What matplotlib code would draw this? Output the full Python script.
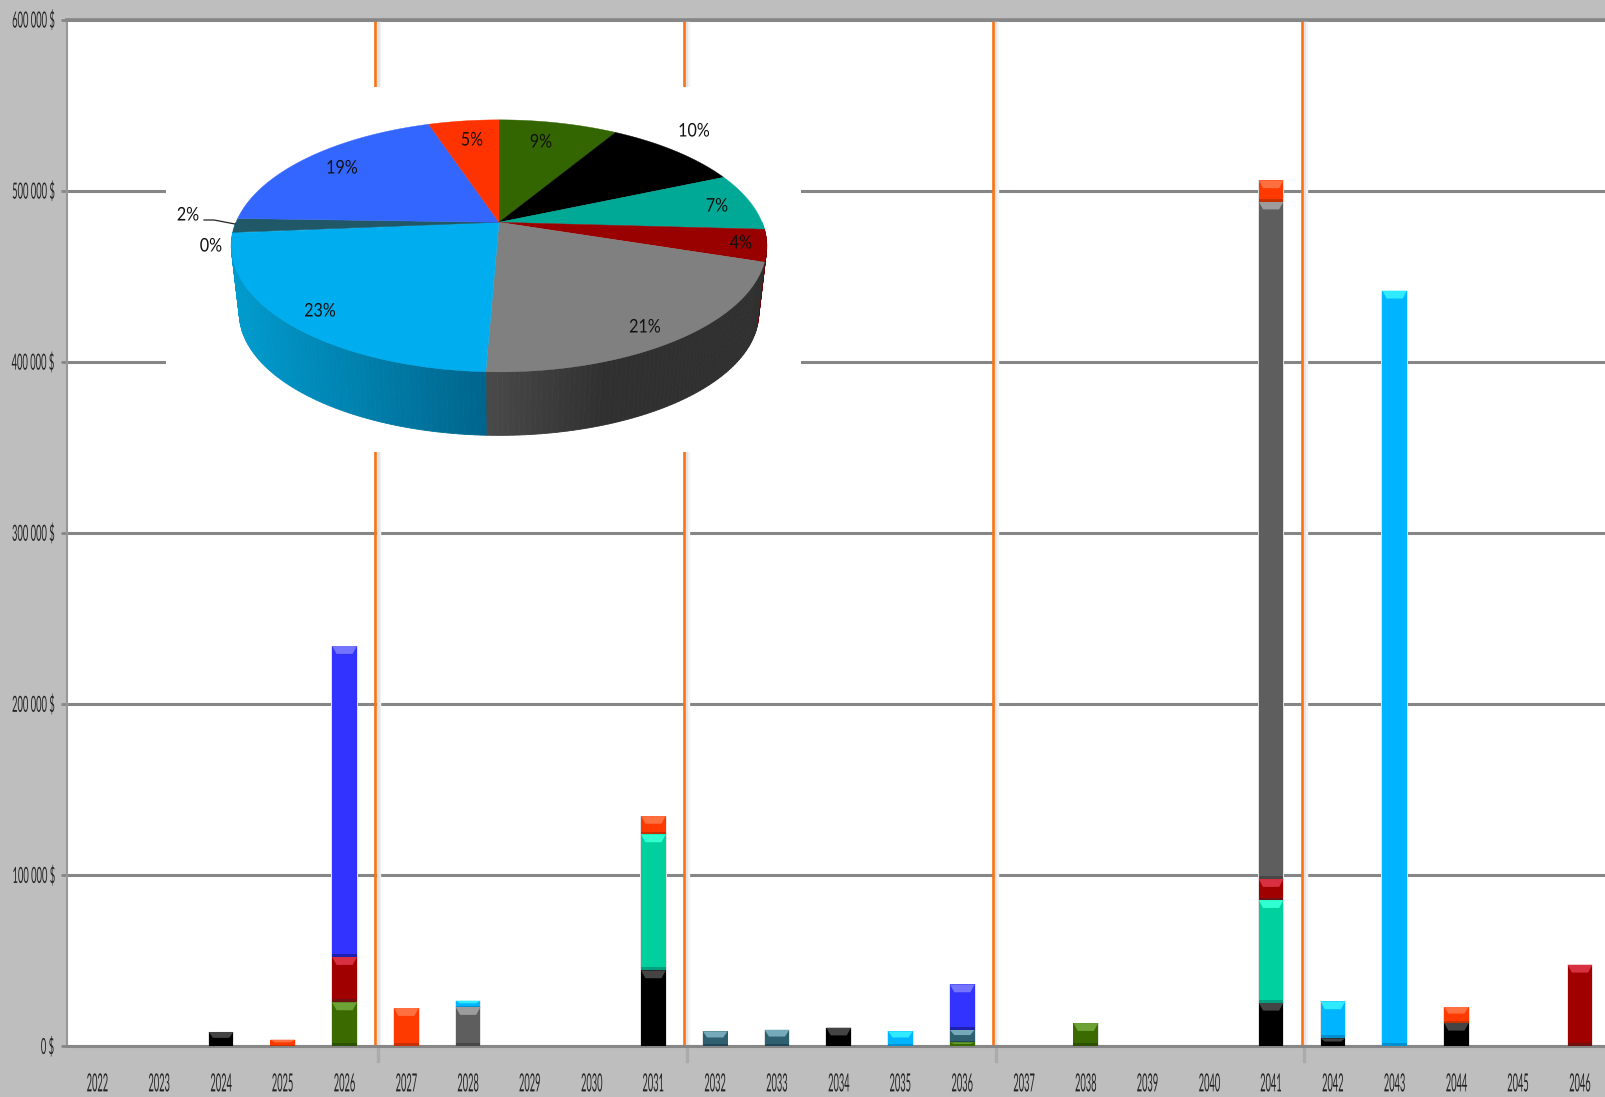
import numpy as np
import matplotlib
matplotlib.use("Agg")
import matplotlib.pyplot as plt
import matplotlib.patheffects as pe
from matplotlib.ticker import FuncFormatter
from matplotlib.transforms import Affine2D

years = list(range(2022, 2047))

# stacked values per year, 2022 -> 2046
green = [0, 0, 0, 0, 25500, 0, 0, 0, 0, 0, 0, 0, 0, 0, 2100, 0, 13400, 0, 0, 0, 0, 0, 0, 0, 0]
black = [0, 0, 8200, 0, 0, 0, 0, 0, 0, 44200, 0, 0, 10700, 0, 0, 0, 0, 0, 0, 25300, 4500, 0, 13600, 0, 0]
teal = [0, 0, 0, 0, 0, 0, 0, 0, 0, 79500, 0, 0, 0, 0, 0, 0, 0, 0, 0, 60000, 0, 0, 0, 0, 0]
red = [0, 0, 0, 0, 26500, 0, 0, 0, 0, 0, 0, 0, 0, 0, 0, 0, 0, 0, 0, 12300, 0, 0, 0, 0, 47500]
gray = [0, 0, 0, 0, 0, 0, 22800, 0, 0, 0, 0, 0, 0, 0, 0, 0, 0, 0, 0, 396000, 0, 0, 0, 0, 0]
sky = [0, 0, 0, 0, 0, 0, 3700, 0, 0, 0, 0, 0, 0, 8600, 0, 0, 0, 0, 0, 0, 21600, 441500, 0, 0, 0]
slate = [0, 0, 0, 0, 0, 0, 0, 0, 0, 0, 8600, 9500, 0, 0, 7400, 0, 0, 0, 0, 0, 0, 0, 0, 0, 0]
blue = [0, 0, 0, 0, 181800, 0, 0, 0, 0, 0, 0, 0, 0, 0, 26500, 0, 0, 0, 0, 0, 0, 0, 0, 0, 0]
orange = [0, 0, 0, 3700, 0, 22200, 0, 0, 0, 10700, 0, 0, 0, 0, 0, 0, 0, 0, 0, 12400, 0, 0, 9200, 0, 0]

series = [green, black, teal, red, gray, sky, slate, blue, orange]
bar_colors = ["#3A6A00", "#000000", "#00D09E", "#A00000", "#5E5E5E", "#00B4FF", "#2E6070", "#3333FF", "#FF3A00"]
top_colors = ["#6CA236", "#444444", "#30FFD0", "#D83040", "#9C9C9C", "#30EAFF", "#74AABA", "#7474FF", "#FF7040"]
low_colors = ["#2C5200", "#000000", "#00A080", "#701010", "#484848", "#0090D0", "#204858", "#2020B0", "#C83000"]

# pie shares, clockwise from 12 o'clock
pie_shares = [8.6, 9.9, 7.4, 4.1, 20.65, 22.95, 0.1, 1.8, 19.4, 5.1]
pie_colors = ["#336600", "#000000", "#00A896", "#990000", "#808080", "#00AEEF", "#00AEEF", "#215868", "#3366FF", "#FF3300"]
wall_colors = ["#336600", "#000000", "#00A896", "#6E0000", "#303030", "#0080B0", "#009ACD", "#009ACD", "#3366FF", "#FF3300"]
label_pos = [(541, 142), (694, 131), (717, 206), (741, 243), (645, 327),
             (320, 311), (211, 246), (188, 215), (342, 168), (472, 140)]

W, H = 1606, 1097
BG = "#BEBEBE"
GRID = "#868686"
LINE_ORANGE = "#F97316"


class Squeeze(pe.AbstractPathEffect):
    # the reference text is squashed sideways, no installed font is that narrow
    def __init__(self, sx, anchor=0.5, shift=0):
        super().__init__()
        self.sx = sx
        self.anchor = anchor
        self.shift = shift

    def draw_path(self, renderer, gc, tpath, affine, rgbFace=None):
        ext = tpath.get_extents()
        ax0 = ext.x0 + (ext.x1 - ext.x0) * self.anchor
        squeeze = Affine2D().translate(-ax0, 0).scale(self.sx, 1).translate(ax0, 0)
        renderer.draw_path(gc, tpath, squeeze + affine + Affine2D().translate(self.shift, 0), rgbFace)


fig = plt.figure(figsize=(W / 100, H / 100), dpi=100, facecolor=BG)
ax = fig.add_axes([66.6 / W, 1 - 1046 / H, (W - 66.6) / W, (1046 - 19.5) / H], facecolor="white")
ax.set_xlim(-0.5, -0.5 + (W - 66.6) / 61.77)
ax.set_ylim(0, 600000)

ax.set_axisbelow(True)
ax.yaxis.grid(True, color=GRID, linewidth=2.2, zorder=1)
ax.set_yticks(range(0, 600001, 100000))
ax.set_xticks(range(len(years)))
ax.set_xticklabels(years)
ax.yaxis.set_major_formatter(FuncFormatter(lambda v, p: f"{int(v):,}".replace(",", " ") + " $"))
ax.tick_params(axis="y", length=4, width=2, color=GRID, pad=35.7, labelsize=16, labelcolor="#222222")
ax.tick_params(axis="x", length=0, pad=19, labelsize=18, labelcolor="#222222")
for lab in ax.get_xticklabels():
    lab.set_fontfamily("Lato")
    lab.set_path_effects([Squeeze(0.37, 0.5)])
for n, lab in enumerate(ax.get_yticklabels()):
    lab.set_fontfamily("Lato")
    lab.set_ha("left")
    # "0 $" is the only short label, it still ends at the same right edge
    lab.set_path_effects([Squeeze(0.42, 0.0, 29 if n == 0 else 0)])
ax.spines["right"].set_visible(False)
ax.spines["left"].set_color("#989898")
ax.spines["left"].set_linewidth(1.5)
ax.spines["bottom"].set_color(GRID)
ax.spines["bottom"].set_linewidth(2.2)
ax.spines["top"].set_color(GRID)
ax.spines["top"].set_linewidth(2.6)

# orange separators every five years with their soft shadow
for b in [4.5, 9.5, 14.5, 19.5]:
    ax.axvline(b + 0.06, color="#F3F3F3", linewidth=2.4, zorder=1.5)
    ax.axvline(b + 0.035, color="#E2E2E2", linewidth=2.0, zorder=1.6)
    ax.plot([b + 0.04, b + 0.04], [0, -9000], color="#ABABAB", linewidth=2.4, clip_on=False, zorder=1.5)
    ax.axvline(b, color=LINE_ORANGE, linewidth=1.9, zorder=2)

# stacked bars with a bevel on top and a darker foot
bar_w = 0.4
bottom = np.zeros(len(years))
for vals, col, top_c, low_c in zip(series, bar_colors, top_colors, low_colors):
    vals = np.array(vals, dtype=float)
    ax.bar(range(len(years)), vals, bar_w + 0.03, bottom=bottom, color="#E2E2E2", linewidth=0, zorder=2.5)
    ax.bar(range(len(years)), vals, bar_w, bottom=bottom, color=col, linewidth=0, zorder=3)
    for i, v in enumerate(vals):
        if v <= 0:
            continue
        b0 = bottom[i]
        bev = min(4600, v * 0.42)
        foot = min(1700, v * 0.12)
        ax.fill([i - bar_w / 2, i + bar_w / 2, i + bar_w / 2 - 0.07, i - bar_w / 2 + 0.07],
                [b0 + v, b0 + v, b0 + v - bev, b0 + v - bev], color=top_c, linewidth=0, zorder=3.2)
        ax.fill([i - bar_w / 2, i + bar_w / 2, i + bar_w / 2, i - bar_w / 2],
                [b0, b0, b0 + foot, b0 + foot], color=low_c, linewidth=0, zorder=3.2)
    bottom += vals

# pie sits on its own white panel, coordinates are figure pixels
pie_ax = fig.add_axes([166 / W, 1 - 452 / H, (801 - 166) / W, (452 - 87) / H], facecolor="white", zorder=5)
pie_ax.set_xlim(166, 801)
pie_ax.set_ylim(452, 87)
pie_ax.axis("off")
pie_ax.add_patch(plt.Rectangle((166, 87), 635, 365, color="white", linewidth=0))

CX, CY = 499, 222.3
A, B, K = 263.0, 121.6, 0.187


def rim(theta, lower=False):
    u = np.sin(theta)
    v = np.cos(theta)
    d = 1 + K * v
    x = CX + A * u / d
    y = CY - B * v / d
    if lower:
        x = CX + 0.97 * (x - CX)
        y = CY + 0.97 * (y - CY) + 68
    return x, y


def mix(c1, c2, t):
    c1 = np.array(matplotlib.colors.to_rgb(c1))
    c2 = np.array(matplotlib.colors.to_rgb(c2))
    return c1 + (c2 - c1) * min(max(t, 0), 1)


edges = np.radians(np.cumsum([0] + pie_shares) / sum(pie_shares) * 360)

# side wall, only the front half shows
step = np.radians(1.0)
for idx, (a0, a1) in enumerate(zip(edges[:-1], edges[1:])):
    lo, hi = max(a0, np.pi / 2), min(a1, 3 * np.pi / 2)
    if hi <= lo:
        continue
    ts = np.linspace(lo, hi, max(int((hi - lo) / step), 1) + 1)
    for t0, t1 in zip(ts[:-1], ts[1:]):
        x0, y0 = rim(t0)
        x1, y1 = rim(t1)
        x2, y2 = rim(t1, True)
        x3, y3 = rim(t0, True)
        if idx == 4:
            shade = mix("#4A4A4A", "#303030", (x0 - 488) / 120)
        elif idx == 5:
            shade = mix("#00658C", "#009ACD", (488 - x0) / 250)
        else:
            shade = wall_colors[idx]
        pie_ax.fill([x0, x1, x2, x3], [y0, y1, y2, y3], color=shade, linewidth=0.6, zorder=2)

# top face
for a0, a1, col in zip(edges[:-1], edges[1:], pie_colors):
    ts = np.linspace(a0, a1, max(int((a1 - a0) / step), 1) + 1)
    xs, ys = rim(ts)
    pie_ax.fill(np.r_[CX, xs], np.r_[CY, ys], color=col, linewidth=0.3, zorder=3)

for (lx, ly), share in zip(label_pos, pie_shares):
    t = pie_ax.text(lx, ly, f"{round(share)}%", ha="center", va="center", fontsize=13.5,
                    family="Lato", color="#111111", zorder=4)
    t.set_path_effects([Squeeze(0.86, 0.5)])
pie_ax.plot([204, 214, 235], [220, 220, 224], color="#222222", linewidth=0.9, zorder=4)

fig.savefig("out.png", dpi=100, facecolor=BG)
